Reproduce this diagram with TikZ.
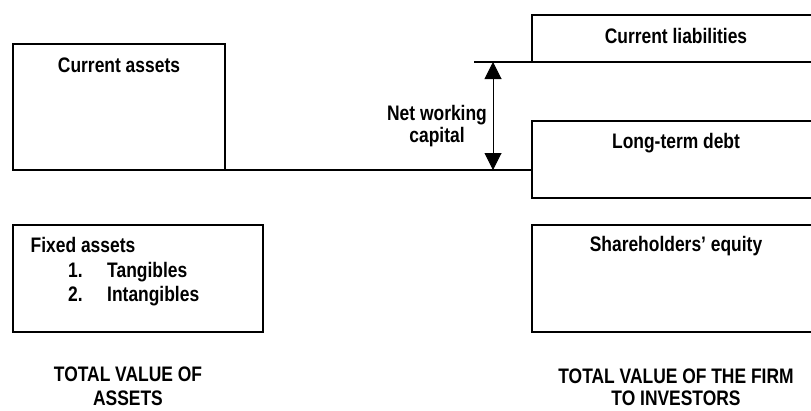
\documentclass[tikz,border=0pt]{standalone}
\usepackage{fontspec}
\setmainfont[FakeStretch=0.83]{Liberation Sans}
\usetikzlibrary{arrows.meta}
\begin{document}
\begin{tikzpicture}[x=1pt,y=-1pt,
  box/.style={draw, line width=1.4pt, rectangle, inner sep=0pt, outer sep=0pt, anchor=north west},
  lbl/.style={font=\fontsize{21}{24}\selectfont\bfseries, inner sep=0pt, anchor=base},
  ln/.style={line width=1.4pt},
  arr/.style={line width=1pt, {Triangle[width=17pt,length=17pt]}-{Triangle[width=17pt,length=17pt]}}]
\useasboundingbox (0,0) rectangle (811,410);
\clip (0,0) rectangle (811,410);
% boxes
\node[box, minimum width=212pt, minimum height=126pt] (ca) at (13,44) {};
\node[box, minimum width=300pt, minimum height=47pt] (cl) at (532,15) {};
\node[box, minimum width=300pt, minimum height=77pt] (ltd) at (532,121) {};
\node[box, minimum width=250pt, minimum height=107pt] (fa) at (13,225) {};
\node[box, minimum width=300pt, minimum height=107pt] (se) at (532,225) {};
% lines
\draw[ln] (ca.south east) -- (ca.south east -| ltd.west);
\coordinate (nwl) at (474,62);
\draw[ln] (nwl) -- (nwl -| cl.south west);
\coordinate (at) at (493,62);
\coordinate (ab) at (493,170);
\draw[arr] (at) -- (ab);
% labels
\node[lbl] (tca) at (119,72.5) {Current assets};
\node[lbl] (tcl) at (676,43.5) {Current liabilities};
\node[lbl] (tltd) at (676,148) {Long-term debt};
\node[lbl] (tnw1) at (437,120) {Net working};
\node[lbl] (tnw2) at (437,142) {capital};
\node[lbl, anchor=base west] (tfa) at (30.5,252.5) {Fixed assets};
\node[lbl, anchor=base west] (n1) at (68,277) {1.};
\node[lbl, anchor=base west] (t1) at (107,277) {Tangibles};
\node[lbl, anchor=base west] (n2) at (68,301.5) {2.};
\node[lbl, anchor=base west] (t2) at (107,301.5) {Intangibles};
\node[lbl] (tse) at (676,251) {Shareholders’ equity};
\node[lbl] (tv1) at (128,381) {TOTAL VALUE OF};
\node[lbl] (tv2) at (128,405) {ASSETS};
\node[lbl] (tf1) at (676,383) {TOTAL VALUE OF THE FIRM};
\node[lbl] (tf2) at (676,405.5) {TO INVESTORS};
\end{tikzpicture}
\end{document}
